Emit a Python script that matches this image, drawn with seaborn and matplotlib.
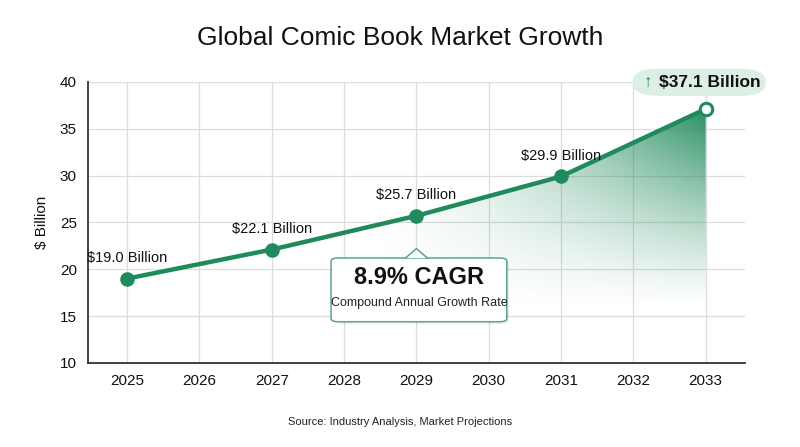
import numpy as np
import pandas as pd
import matplotlib
matplotlib.use("Agg")
import matplotlib.pyplot as plt
import seaborn as sns
from matplotlib.patches import FancyBboxPatch, Polygon

# data
years = [2025, 2027, 2029, 2031, 2033]
values = [19.0, 22.1, 25.7, 29.9, 37.1]
labels = ["$19.0 Billion", "$22.1 Billion", "$25.7 Billion", "$29.9 Billion"]
all_years = list(range(2025, 2034))
yticks = [10, 15, 20, 25, 30, 35, 40]

green = "#1f8a5c"
df = pd.DataFrame({"Year": years, "Value": values})

sns.set_theme(style="whitegrid")
plt.rcParams['font.family'] = ['Liberation Sans', 'DejaVu Sans']

fig = plt.figure(figsize=(8, 4.47), dpi=100)
ax = fig.add_axes([0.11, 0.188, 0.821, 0.629])

# gradient fill under the line (stronger to the right and towards the top)
xlo, xhi = 2024.46, 2033.54
gx = np.linspace(xlo, xhi, 400)
gy = np.linspace(10, 40, 300)
X, Y = np.meshgrid(gx, gy)
hx = np.clip((X - 2028.3) / (2033 - 2028.3), 0, 1) ** 1.3
vy = np.clip((Y - 16) / (37 - 16), 0, 1) ** 1.2
alpha = 0.95 * hx * vy
rgba = np.zeros(X.shape + (4,))
rgba[..., 0] = 0x1f / 255
rgba[..., 1] = 0x8a / 255
rgba[..., 2] = 0x5c / 255
rgba[..., 3] = alpha
im = ax.imshow(rgba, extent=[xlo, xhi, 10, 40], origin="lower", aspect="auto", zorder=1)
poly_pts = list(zip(years, values)) + [(years[-1], 10), (years[0], 10)]
clip = Polygon(poly_pts, closed=True, transform=ax.transData)
im.set_clip_path(clip)

sns.lineplot(data=df, x="Year", y="Value", color=green, linewidth=3.2, ax=ax, zorder=3)
sns.scatterplot(data=df.iloc[:-1], x="Year", y="Value", color=green, s=110,
                edgecolor=green, linewidth=0, ax=ax, zorder=4)
sns.scatterplot(data=df.iloc[-1:], x="Year", y="Value", color="white", s=80,
                edgecolor=green, linewidth=2.2, ax=ax, zorder=5)

for yr, v, lab in zip(years[:-1], values[:-1], labels):
    ax.annotate(lab, (yr, v), xytext=(0, 15), textcoords="offset points",
                ha="center", va="center", fontsize=10.5, color="#111111", zorder=6)

# top label pill
pill = FancyBboxPatch((2031.99, 38.5), 1.84, 2.9,
                      boxstyle="round,pad=0,rounding_size=0.35",
                      fc="#dcefe5", ec="none", zorder=6, clip_on=False,
                      mutation_aspect=4.0)
ax.add_patch(pill)
ax.text(2032.36, 39.9, "$37.1 Billion", fontsize=12.5, fontweight="bold",
        ha="left", va="center", color="#111111", zorder=7, clip_on=False)
ax.text(2032.2, 39.9, "↑", fontsize=12, ha="center", va="center",
        color=green, zorder=8, clip_on=False)

# CAGR callout
bx0, bx1, by0, by1 = 2027.82, 2030.25, 14.4, 21.2
shadow = FancyBboxPatch((bx0 + 0.03, by0 - 0.25), bx1 - bx0, by1 - by0,
                        boxstyle="round,pad=0,rounding_size=0.1",
                        fc="#000000", ec="none", alpha=0.06, zorder=6,
                        mutation_aspect=3.5)
ax.add_patch(shadow)
box = FancyBboxPatch((bx0, by0), bx1 - bx0, by1 - by0,
                     boxstyle="round,pad=0,rounding_size=0.1",
                     fc="white", ec="#5aa586", lw=1.1, zorder=7,
                     mutation_aspect=3.5)
ax.add_patch(box)
tri = Polygon([(2028.85, by1), (2029.0, 22.2), (2029.15, by1)], closed=True,
              fc="white", ec="none", zorder=8)
ax.add_patch(tri)
ax.plot([2028.85, 2029.0, 2029.15], [by1, 22.2, by1], color="#5aa586", lw=1.1, zorder=9)
ax.text(2029.04, 19.1, "8.9% CAGR", fontsize=17, fontweight="bold", ha="center",
        va="center", color="#111111", zorder=10)
ax.text(2029.04, 16.4, "Compound Annual Growth Rate", fontsize=9, ha="center",
        va="center", color="#222222", zorder=10)

ax.set_xlim(xlo, xhi)
ax.set_ylim(10, 40)
ax.set_xticks(all_years)
ax.set_yticks(yticks)
ax.tick_params(axis="both", labelsize=11, colors="#111111", length=0, pad=8)
ax.set_xlabel("")
ax.set_ylabel("$ Billion", fontsize=11, color="#111111", labelpad=8)
ax.grid(True, color="#dddddd", linewidth=0.9)
for s in ["top", "right"]:
    ax.spines[s].set_visible(False)
for s in ["left", "bottom"]:
    ax.spines[s].set_visible(True)
    ax.spines[s].set_color("#333333")
    ax.spines[s].set_linewidth(1.3)

fig.text(0.5, 0.915, "Global Comic Book Market Growth", ha="center", va="center",
         fontsize=19, color="#111111")
fig.text(0.5, 0.055, "Source: Industry Analysis, Market Projections", ha="center",
         va="center", fontsize=8, color="#222222")

fig.savefig("out.png", dpi=100, facecolor="white")
